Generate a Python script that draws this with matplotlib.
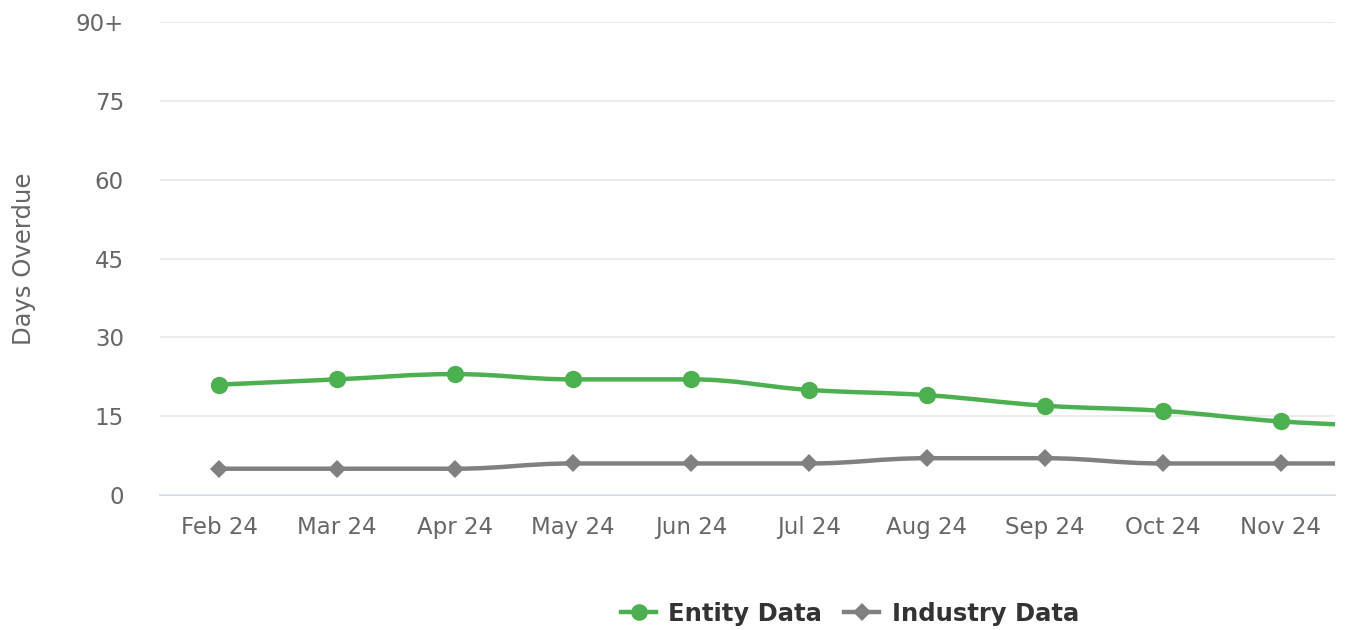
import matplotlib
matplotlib.use("Agg")
import matplotlib.pyplot as plt
from matplotlib.path import Path
from matplotlib.patches import PathPatch
from matplotlib.lines import Line2D

categories = ["Feb 24", "Mar 24", "Apr 24", "May 24", "Jun 24", "Jul 24",
              "Aug 24", "Sep 24", "Oct 24", "Nov 24", "Dec 24"]
entity_data = [21, 22, 23, 22, 22, 20, 19, 17, 16, 14, 13]
industry_data = [5, 5, 5, 6, 6, 6, 7, 7, 6, 6, 6]
y_ticks = [0, 15, 30, 45, 60, 75, 90]
y_tick_labels = ["0", "15", "30", "45", "60", "75", "90+"]

GREEN = "#4caf50"
GRAY = "#808080"
FONT = ["DejaVu Sans"]


def spline_path(xs, ys, smoothing=1.5):
    """Highcharts-style spline as cubic Bezier path."""
    n = len(xs)
    verts = [(xs[0], ys[0])]
    codes = [Path.MOVETO]
    left = [None] * n
    right = [None] * n
    denom = smoothing + 1
    for i in range(1, n - 1):
        px, py = xs[i], ys[i]
        lx, ly = xs[i - 1], ys[i - 1]
        nx, ny = xs[i + 1], ys[i + 1]
        lcx = (smoothing * px + lx) / denom
        lcy = (smoothing * py + ly) / denom
        rcx = (smoothing * px + nx) / denom
        rcy = (smoothing * py + ny) / denom
        if rcx != lcx:
            corr = ((rcy - lcy) * (rcx - px)) / (rcx - lcx) + py - rcy
            lcy += corr
            rcy += corr
        if lcy > ly and lcy > py:
            lcy = max(ly, py); rcy = 2 * py - lcy
        elif lcy < ly and lcy < py:
            lcy = min(ly, py); rcy = 2 * py - lcy
        if rcy > ny and rcy > py:
            rcy = max(ny, py); lcy = 2 * py - rcy
        elif rcy < ny and rcy < py:
            rcy = min(ny, py); lcy = 2 * py - rcy
        left[i] = (lcx, lcy)
        right[i] = (rcx, rcy)
    for i in range(1, n):
        c1 = right[i - 1] if right[i - 1] is not None else (xs[i - 1], ys[i - 1])
        c2 = left[i] if left[i] is not None else (xs[i], ys[i])
        verts += [c1, c2, (xs[i], ys[i])]
        codes += [Path.CURVE4, Path.CURVE4, Path.CURVE4]
    return Path(verts, codes)


fig = plt.figure(figsize=(13.46, 6.3), dpi=100)
ax = fig.add_axes([160 / 1346, (630 - 495) / 630, (1335 - 160) / 1346, (495 - 22) / 630])

x = list(range(len(categories)))

for data, color, marker, ms in [(entity_data, GREEN, "o", 12.5),
                                (industry_data, GRAY, "D", 9)]:
    path = spline_path(x, data)
    ax.add_patch(PathPatch(path, facecolor="none", edgecolor=color, lw=3.2,
                           capstyle="round", joinstyle="round", zorder=3))
    ax.plot(x, data, linestyle="none", marker=marker, ms=ms, color=color,
            markeredgewidth=0, zorder=4, clip_on=True)

ax.set_yticks(y_ticks)
ax.set_yticklabels(y_tick_labels)
ax.set_xticks(x)
ax.set_xticklabels(categories)
ax.set_xlim(-0.5, 9.46)
ax.set_ylim(0, 90)

ax.grid(axis="y", color="#e9e9e9", lw=1.3, zorder=0)
for s in ["top", "right", "left"]:
    ax.spines[s].set_visible(False)
ax.spines["bottom"].set_color("#ccd6eb")
ax.spines["bottom"].set_linewidth(1.3)
ax.spines["bottom"].set_zorder(1)
ax.tick_params(axis="both", length=0, labelcolor="#666666", labelsize=16.5)
ax.tick_params(axis="y", pad=26)
ax.tick_params(axis="x", pad=15)
for lab in ax.get_xticklabels() + ax.get_yticklabels():
    lab.set_family(FONT)

ax.set_ylabel("Days Overdue", fontsize=17.5, color="#666666", family=FONT)
ax.yaxis.set_label_coords(-124 / 1175, 0.5)

handles = [Line2D([0], [0], color=GREEN, lw=3.2, marker="o", ms=12, markeredgewidth=0),
           Line2D([0], [0], color=GRAY, lw=3.2, marker="D", ms=9, markeredgewidth=0)]
fig.legend(handles, ["Entity Data", "Industry Data"], loc="center",
           bbox_to_anchor=(850 / 1346, (630 - 614) / 630), ncol=2, frameon=False,
           handlelength=1.45, handletextpad=0.5, columnspacing=0.9,
           prop={"family": FONT, "weight": "bold", "size": 17.5},
           labelcolor="#333333")

fig.savefig("out.png", dpi=100, facecolor="white")
